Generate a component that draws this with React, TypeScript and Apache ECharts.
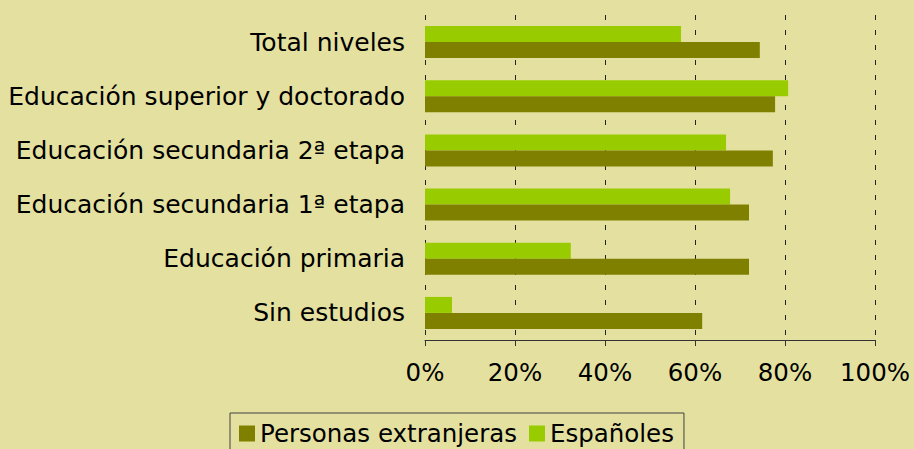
import React, { useEffect, useRef } from "react";
import * as echarts from "echarts";

const categories = [
  "Sin estudios",
  "Educación primaria",
  "Educación secundaria 1ª etapa",
  "Educación secundaria 2ª etapa",
  "Educación superior y doctorado",
  "Total niveles",
];
const extranjeras = [61.6, 72.0, 72.0, 77.3, 77.8, 74.4];
const espanoles = [6.0, 32.4, 67.8, 66.9, 80.7, 56.9];
const seriesNames = ["Personas extranjeras", "Españoles"];

const FONT = "DejaVu Sans, Verdana, sans-serif";

export default function App() {
  const ref = useRef<HTMLDivElement>(null);
  useEffect(() => {
    if (!ref.current) return;
    const chart = echarts.init(ref.current, undefined, { renderer: "svg" });
    chart.setOption({
      animation: false,
      backgroundColor: "#E4E1A0",
      textStyle: { fontFamily: FONT },
      grid: { left: 425, right: 39, top: 15, bottom: 109, containLabel: false },
      legend: {
        data: seriesNames,
        left: 230,
        top: 413,
        orient: "horizontal",
        icon: "rect",
        itemWidth: 16,
        itemHeight: 16,
        itemGap: 12,
        padding: [8, 10, 8, 9],
        borderColor: "#404040",
        borderWidth: 1,
        backgroundColor: "#E4E1A0",
        textStyle: { fontFamily: FONT, fontSize: 24.5, color: "#000" },
      },
      xAxis: {
        type: "value",
        min: 0,
        max: 100,
        interval: 20,
        axisLabel: {
          formatter: "{value}%",
          fontFamily: FONT,
          fontSize: 24.5,
          color: "#000",
          margin: 20,
        },
        axisLine: { show: true, lineStyle: { color: "#333", width: 1 } },
        axisTick: { show: true, length: 6, lineStyle: { color: "#333" } },
        splitLine: {
          show: true,
          lineStyle: { color: "#222", type: [5, 10], width: 1 },
        },
      },
      yAxis: {
        type: "category",
        data: categories,
        axisLine: { show: false },
        axisTick: { show: false },
        axisLabel: {
          fontFamily: FONT,
          fontSize: 25,
          color: "#000",
          margin: 20,
        },
      },
      series: [
        {
          name: seriesNames[1],
          type: "bar",
          data: espanoles,
          barWidth: 16,
          barGap: "0%",
          itemStyle: { color: "#99CC00" },
        },
        {
          name: seriesNames[0],
          type: "bar",
          data: extranjeras,
          barWidth: 16,
          barGap: "0%",
          itemStyle: { color: "#808000" },
        },
      ],
    });
    return () => chart.dispose();
  }, []);
  return <div ref={ref} style={{ width: 914, height: 449, position: "absolute", left: 0, top: 0 }} />;
}
